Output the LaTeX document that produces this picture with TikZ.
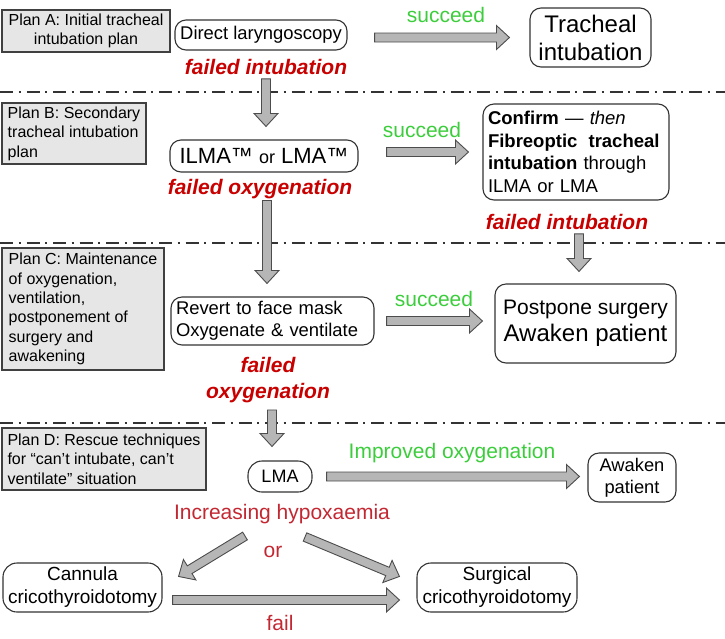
\documentclass[tikz,border=0pt]{standalone}
\usepackage{fontspec}
\setmainfont{Liberation Sans}
\usepackage{xcolor}
\usetikzlibrary{calc,positioning}

\definecolor{plangray}{RGB}{230,230,230}
\definecolor{arrowgray}{RGB}{182,182,182}
\definecolor{okgreen}{RGB}{60,205,60}
\definecolor{failred}{RGB}{200,0,0}
\definecolor{hypred}{RGB}{195,40,50}

\tikzset{
  planbox/.style={draw=black!75, fill=plangray, line width=1.2pt, inner sep=2pt, align=left,
    font=\fontsize{16}{19.4}\selectfont},
  stepbox/.style={draw=black!80, fill=white, rounded corners=11pt, line width=1.1pt, inner sep=1pt, align=center},
  oklabel/.style={text=okgreen, inner sep=1pt, font=\fontsize{21}{25}\selectfont},
  faillabel/.style={text=failred, inner sep=1pt, align=center, font=\fontsize{21}{26}\selectfont\bfseries\itshape},
  hyplabel/.style={text=hypred, inner sep=1pt, font=\fontsize{21}{25}\selectfont},
  fatfill/.style={draw=black!70, fill=arrowgray, line width=0.9pt, line join=miter},
  planline/.style={line width=2pt, black!80, dash pattern=on 13pt off 5.5pt on 2pt off 6pt}
}

% block arrow from #1 to #2 (both given with their brackets)
\newcommand{\fatarrow}[2]{%
  \coordinate (fa-s) at #1;
  \coordinate (fa-e) at #2;
  \coordinate (fa-h) at ($(fa-e)!13pt!(fa-s)$);
  \draw[fatfill] ($(fa-s)!4.5pt!90:(fa-e)$) -- ($(fa-h)!4.5pt!-90:(fa-s)$)
    -- ($(fa-h)!12pt!-90:(fa-s)$) -- (fa-e) -- ($(fa-h)!12pt!90:(fa-s)$)
    -- ($(fa-h)!4.5pt!90:(fa-s)$) -- ($(fa-s)!4.5pt!-90:(fa-e)$) -- cycle;
}

\begin{document}
\begin{tikzpicture}[x=1pt, y=-1pt]
\useasboundingbox (0,0) rectangle (725,638);

% Dash-dot lines between the plans
\foreach \y in {91.5,243,423}
  \draw[planline] (0,\y) -- (725,\y);

% Plan A
\node[planbox, align=center, minimum width=168pt, minimum height=42pt] (planA) at (86,31)
  {Plan A: Initial tracheal\\intubation plan};
\node[stepbox, minimum width=172pt, minimum height=30pt, font=\fontsize{18.4}{22}\selectfont] (dl) at (261,35)
  {Direct laryngoscopy};
\node[faillabel] (fi1) at (266,67) {failed intubation};
\node[oklabel] (suc1) at (446,15) {succeed};
\node[stepbox, minimum width=121pt, minimum height=59pt, font=\fontsize{24}{28}\selectfont] (ti) at (590.5,37.5)
  {Tracheal\\intubation};

% Plan B
\node[planbox, minimum width=144pt, minimum height=61pt] (planB) at (74,133.5)
  {Plan B: Secondary\\tracheal intubation\\plan};
\node[stepbox, minimum width=188pt, minimum height=32pt] (ilma) at (264,156)
  {\fontsize{22}{26}\selectfont ILMA™ {\fontsize{18}{22}\selectfont or} LMA™};
\node[faillabel] (fo1) at (260,189.5) {failed oxygenation};
\node[oklabel] (suc2) at (422,130) {succeed};
\node[stepbox, minimum width=186pt, minimum height=96pt, text width=176pt, align=left,
  font=\fontsize{18.5}{22.6}\selectfont] (conf) at (576,152)
  {\textbf{Confirm} — \textit{then}\\\textbf{Fibreoptic\hspace{5pt} tracheal}\\\textbf{intubation} through\\ILMA or LMA};
\node[faillabel] (fi2) at (567,222) {failed intubation};

% Plan C
\node[planbox, minimum width=162pt, minimum height=122pt] (planC) at (83,309)
  {Plan C: Maintenance\\of oxygenation,\\ventilation,\\postponement of\\surgery and\\awakening};
\node[stepbox, minimum width=203pt, minimum height=48pt, text width=193pt, align=left,
  font=\fontsize{18.4}{22}\selectfont] (rev) at (272.5,321)
  {Revert to face mask\\Oxygenate \& ventilate};
\node[faillabel] (fo2) at (268,380) {failed\\oxygenation};
\node[oklabel] (suc3) at (434,299) {succeed};
\node[stepbox, minimum width=181pt, minimum height=79pt, font=\fontsize{24}{27}\selectfont] (pp) at (585.5,323.5)
  {{\fontsize{21}{27}\selectfont Postpone surgery}\\{\fontsize{24}{27}\selectfont Awaken patient}};

% Plan D
\node[planbox, minimum width=204pt, minimum height=62pt] (planD) at (104,459)
  {Plan D: Rescue techniques\\for “can’t intubate, can’t\\ventilate” situation};
\node[stepbox, rounded corners=14pt, minimum width=64pt, minimum height=31pt, font=\fontsize{18}{22}\selectfont] (lma) at (280,476.5)
  {LMA};
\node[oklabel] (imp) at (452,453) {Improved oxygenation};
\node[stepbox, minimum width=88pt, minimum height=49pt, font=\fontsize{18.3}{22}\selectfont] (aw) at (632,477.5)
  {Awaken\\patient};
\node[hyplabel] (hyp) at (282,514) {Increasing hypoxaemia};
\node[hyplabel] (or) at (273,552) {or};
\node[stepbox, rounded corners=14pt, minimum width=159pt, minimum height=49pt, font=\fontsize{19}{23}\selectfont] (can) at (82.5,587.5)
  {Cannula\\cricothyroidotomy};
\node[stepbox, rounded corners=14pt, minimum width=160pt, minimum height=49pt, font=\fontsize{19}{23}\selectfont] (sur) at (497,587.5)
  {Surgical\\cricothyroidotomy};
\node[hyplabel] (fail) at (280,623) {fail};

% Block arrows
\fatarrow{($(dl.east |- ti.west)+(27,0)$)}{($(ti.west)+(-20,0)$)}
\fatarrow{($(fi1.south)+(0,3)$)}{($(fi1.south |- ilma.north)+(0,-13)$)}
\fatarrow{($(ilma.east)+(28,-4)$)}{($(conf.west |- ilma.east)+(-14,-4)$)}
\fatarrow{($(fo1.south)+(7,0)$)}{($(fo1.south |- rev.north)+(7,-13)$)}
\fatarrow{($(fi2.south)+(12,3)$)}{($(fi2.south |- pp.north)+(12,-12)$)}
\fatarrow{($(rev.east)+(12,0)$)}{($(pp.west |- rev.east)+(-12,0)$)}
\fatarrow{($(fo2.south)+(4,6)$)}{($(fo2.south |- lma.north)+(4,-14)$)}
\fatarrow{($(lma.east)+(14,0)$)}{($(aw.west |- lma.east)+(-8,0)$)}
\fatarrow{($(hyp.south)+(-37,11)$)}{($(can.north east)+(16,14)$)}
\fatarrow{($(hyp.south)+(23,12)$)}{($(sur.north west)+(-17,14)$)}
\fatarrow{($(can.east)+(10,12.5)$)}{($(sur.west)+(-17,12.5)$)}
\end{tikzpicture}
\end{document}
